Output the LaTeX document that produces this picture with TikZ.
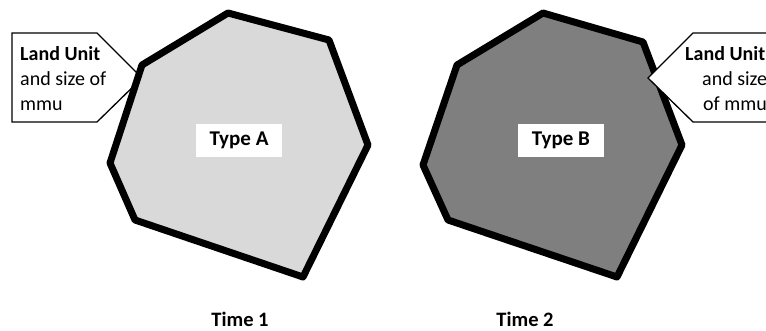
\documentclass[tikz,border=0pt]{standalone}
\usepackage{fontspec}
\setmainfont{Carlito}
\definecolor{lgray}{HTML}{D9D9D9}
\definecolor{dgray}{HTML}{7F7F7F}
\begin{document}
\begin{tikzpicture}[x=1pt,y=-1pt,
  region/.style={draw=black,line width=7pt,line join=round},
  callout/.style={draw=black,fill=white,line width=1.3pt,line join=miter},
  typelabel/.style={fill=white,font=\bfseries\fontsize{21}{24}\selectfont,inner sep=0pt,minimum width=86pt,minimum height=33pt},
  timelabel/.style={font=\bfseries\fontsize{20.5}{24}\selectfont,anchor=base,inner sep=0pt},
  ctext/.style={font=\fontsize{20}{24}\selectfont,anchor=base west,inner sep=0pt},
  cbold/.style={ctext,font=\bfseries\fontsize{20}{24}\selectfont}]
\useasboundingbox (0,0) rectangle (766,331);
\clip (0,0) rectangle (766,331);
\fill[white] (0,0) rectangle (766,331);
% left callout
\draw[callout] (12,33) -- (97,33) -- (142,78) -- (97,122) -- (12,122) -- cycle;
\node[cbold] (l1) at (20,61) {Land Unit};
\node[ctext] (l2) at (20,86) {and size of};
\node[ctext] (l3) at (20,111) {mmu};
% left region
\draw[region,fill=lgray] (228,13) -- (329,40) -- (368,145) -- (303,277) -- (135,220) -- (110,163) -- (142,65) -- cycle;
\node[typelabel] (ta) at (239,140.5) {Type A};
% right region
\draw[region,fill=dgray] (543,13) -- (643,42) -- (682,145) -- (617,277) -- (448,220) -- (423,165) -- (457,65) -- cycle;
\node[typelabel] (tb) at (561,140.5) {Type B};
% right callout
\draw[callout] (648,78) -- (693,33) -- (790,33) -- (790,122) -- (693,122) -- cycle;
\node[cbold] (r1) at (685,61) {Land Unit};
\node[ctext] (r2) at (702,86) {and size};
\node[ctext] (r3) at (703,111) {of mmu};
% time labels
\node[timelabel] (t1) at (240,326) {Time 1};
\node[timelabel] (t2) at (525,326) {Time 2};
\end{tikzpicture}
\end{document}
